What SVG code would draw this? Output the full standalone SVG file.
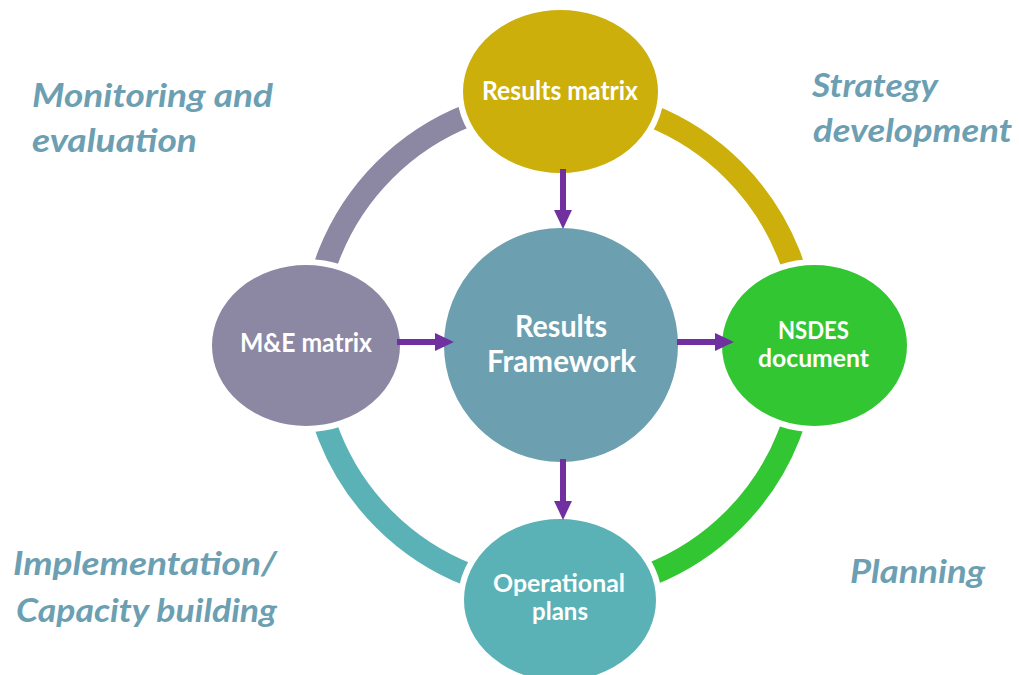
<svg xmlns="http://www.w3.org/2000/svg" width="1019" height="675" viewBox="0 0 1019 675">
<style>
.arc{fill:none;stroke-width:23;stroke-linecap:butt}
.node{stroke:#ffffff;stroke-width:6}
.nt{font-family:Lato,"Open Sans","Liberation Sans",sans-serif;font-weight:bold;fill:#ffffff;text-anchor:start}
.lbl{font-family:Lato,"Open Sans","Liberation Sans",sans-serif;font-weight:bold;font-style:italic;fill:#6C9FB2;font-size:32px}
.arrow{stroke:#7030A0;stroke-width:6;fill:none}
</style>
<defs>
<marker id="ah" markerUnits="userSpaceOnUse" markerWidth="20" markerHeight="20" refX="0" refY="8.5" orient="auto" viewBox="0 0 19 17">
<path d="M0,0 L18,8.5 L0,17 Z" fill="#7030A0"/>
</marker>
</defs>
<rect width="1019" height="675" fill="#ffffff"/>
<g id="ring">
<path class="arc" stroke="#8C87A3" d="M312,345 A247,247 0 0 1 559,98"/>
<path class="arc" stroke="#CCAF0B" d="M559,98 A247,247 0 0 1 806,345"/>
<path class="arc" stroke="#33C633" d="M806,345 A247,247 0 0 1 559,592"/>
<path class="arc" stroke="#5AB2B6" d="M559,592 A247,247 0 0 1 312,345"/>
</g>
<g id="node-results-matrix">
<ellipse class="node" cx="560.5" cy="91.5" rx="100.5" ry="84.5" fill="#CCAF0B"/>
<text class="nt" x="482" y="100" font-size="26" textLength="156" lengthAdjust="spacingAndGlyphs">Results matrix</text>
</g>
<g id="node-me-matrix">
<ellipse class="node" cx="306" cy="345.5" rx="97" ry="83.5" fill="#8C87A3"/>
<text class="nt" x="240" y="352" font-size="26" textLength="132" lengthAdjust="spacingAndGlyphs">M&amp;E matrix</text>
</g>
<g id="node-nsdes">
<ellipse class="node" cx="814.5" cy="345.5" rx="95.5" ry="83.5" fill="#33C633"/>
<text class="nt" x="778" y="339" font-size="25" textLength="71" lengthAdjust="spacingAndGlyphs">NSDES</text>
<text class="nt" x="758" y="367" font-size="25" textLength="111" lengthAdjust="spacingAndGlyphs">document</text>
</g>
<g id="node-operational">
<ellipse class="node" cx="560" cy="600" rx="99" ry="84" fill="#5AB2B6"/>
<text class="nt" x="493" y="592" font-size="25" textLength="132" lengthAdjust="spacingAndGlyphs">Operational</text>
<text class="nt" x="532" y="620" font-size="25" textLength="56" lengthAdjust="spacingAndGlyphs">plans</text>
</g>
<g id="node-results-framework">
<circle class="node" cx="561" cy="345" r="120" fill="#6C9FAF"/>
<text class="nt" x="515" y="337" font-size="30" textLength="92" lengthAdjust="spacingAndGlyphs">Results</text>
<text class="nt" x="487" y="372" font-size="30" textLength="149" lengthAdjust="spacingAndGlyphs">Framework</text>
</g>
<g id="connectors">
<line class="arrow" x1="563" y1="169" x2="563" y2="210" marker-end="url(#ah)"/>
<line class="arrow" x1="397" y1="342" x2="435" y2="342" marker-end="url(#ah)"/>
<line class="arrow" x1="677" y1="342" x2="715" y2="342" marker-end="url(#ah)"/>
<line class="arrow" x1="563" y1="459" x2="563" y2="501" marker-end="url(#ah)"/>
</g>
<g id="labels">
<text class="lbl" x="32" y="107" textLength="241" lengthAdjust="spacingAndGlyphs">Monitoring and</text>
<text class="lbl" x="32" y="152" textLength="165" lengthAdjust="spacingAndGlyphs">evaluation</text>
<text class="lbl" x="812" y="97" textLength="126" lengthAdjust="spacingAndGlyphs">Strategy</text>
<text class="lbl" x="813" y="142" textLength="199" lengthAdjust="spacingAndGlyphs">development</text>
<text class="lbl" x="13" y="575" textLength="264" lengthAdjust="spacingAndGlyphs">Implementation/</text>
<text class="lbl" x="16" y="622" textLength="261" lengthAdjust="spacingAndGlyphs">Capacity building</text>
<text class="lbl" x="850" y="583" textLength="135" lengthAdjust="spacingAndGlyphs">Planning</text>
</g>
</svg>
